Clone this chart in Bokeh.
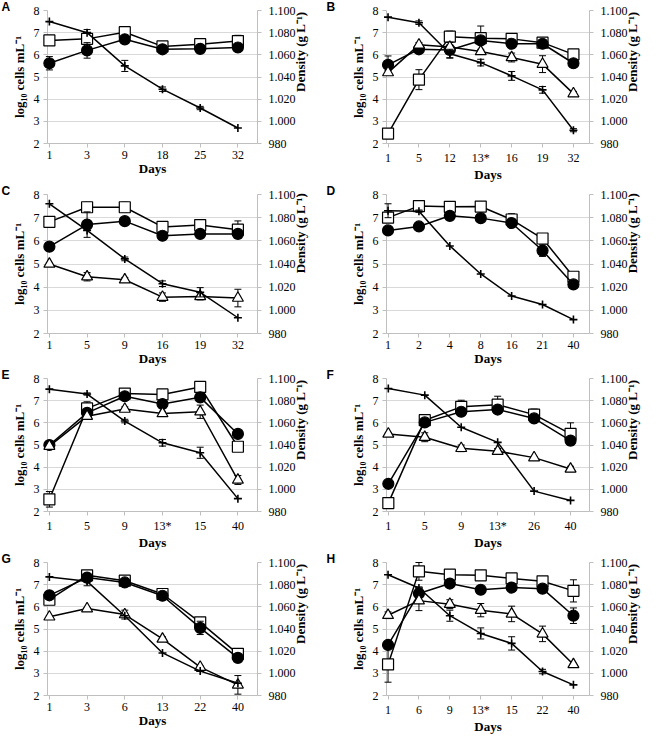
import math
import json
from bokeh.plotting import figure
from bokeh.models import Range1d, LinearAxis, FixedTicker, CustomJSTickFormatter, Title, ColumnDataSource
from bokeh.layouts import gridplot
from bokeh.embed import file_html
from bokeh.resources import INLINE

# ---------------- data ----------------
A_days = ["1", "3", "9", "18", "25", "32"]
A_sq = [6.65, 6.72, 7.02, 6.38, 6.48, 6.62]
A_sq_e = [0.15, 0.42, 0.08, 0.05, 0.05, 0.26]
A_ci = [5.62, 6.2, 6.7, 6.25, 6.27, 6.33]
A_ci_e = [0.3, 0.35, 0.08, 0.08, 0.05, 0.08]
A_tr = None
A_tr_e = None
A_den = [1.090, 1.080, 1.050, 1.029, 1.012, 0.994]
A_den_e = [0.0, 0.0, 0.005, 0.002, 0.0015, 0.0]

B_days = ["1", "5", "12", "13*", "16", "19", "32"]
B_sq = [2.45, 4.88, 6.82, 6.75, 6.72, 6.55, 6.02]
B_sq_e = [0.05, 0.45, 0.25, 0.55, 0.1, 0.12, 0.12]
B_ci = [5.55, 6.25, 6.22, 6.65, 6.5, 6.5, 5.62]
B_ci_e = [0.4, 0.1, 0.35, 0.1, 0.1, 0.15, 0.15]
B_tr = [5.2, 6.45, 6.35, 6.15, 5.88, 5.58, 4.25]
B_tr_e = [0.1, 0.1, 0.1, 0.1, 0.2, 0.38, 0.1]
B_den = [1.094, 1.089, 1.061, 1.053, 1.041, 1.0284, 0.992]
B_den_e = [0.0, 0.0016, 0.004, 0.003, 0.004, 0.003, 0.0014]

C_days = ["1", "5", "9", "16", "19", "32"]
C_sq = [6.82, 7.45, 7.45, 6.6, 6.68, 6.48]
C_sq_e = [0.05, 0.22, 0.22, 0.1, 0.05, 0.38]
C_ci = [5.75, 6.7, 6.85, 6.22, 6.3, 6.3]
C_ci_e = [0.05, 0.55, 0.05, 0.12, 0.05, 0.15]
C_tr = [5.0, 4.45, 4.32, 3.57, 3.6, 3.53]
C_tr_e = [0.05, 0.18, 0.1, 0.18, 0.15, 0.38]
C_den = [1.092, 1.069, 1.0444, 1.023, 1.0156, 0.9936]
C_den_e = [0.0, 0.0, 0.0016, 0.0024, 0.004, 0.0]

D_days = ["1", "2", "4", "8", "16", "21", "40"]
D_sq = [7.0, 7.5, 7.47, 7.48, 6.92, 6.1, 4.45]
D_sq_e = [0.05, 0.05, 0.05, 0.05, 0.25, 0.1, 0.05]
D_ci = [6.45, 6.62, 7.08, 6.98, 6.77, 5.58, 4.12]
D_ci_e = [0.05, 0.05, 0.05, 0.05, 0.15, 0.25, 0.1]
D_tr = None
D_tr_e = None
D_den = [1.086, 1.0856, 1.0556, 1.0314, 1.0124, 1.005, 0.992]
D_den_e = [0.006, 0.001, 0.0, 0.0, 0.0, 0.0, 0.0]

E_days = ["1", "5", "9", "13*", "15", "40"]
E_sq = [2.55, 6.65, 7.32, 7.28, 7.62, 4.92]
E_sq_e = [0.35, 0.3, 0.05, 0.05, 0.1, 0.05]
E_ci = [5.0, 6.45, 7.2, 6.85, 7.15, 5.5]
E_ci_e = [0.1, 0.1, 0.05, 0.05, 0.05, 0.05]
E_tr = [4.95, 6.3, 6.62, 6.42, 6.5, 3.42]
E_tr_e = [0.1, 0.1, 0.1, 0.1, 0.3, 0.2]
E_den = [1.0904, 1.086, 1.0616, 1.042, 1.033, 0.9916]
E_den_e = [0.0, 0.001, 0.0016, 0.003, 0.005, 0.0]

F_days = ["1", "5", "9", "13*", "26", "40"]
F_sq = [2.38, 6.12, 6.72, 6.82, 6.37, 5.5]
F_sq_e = [0.05, 0.1, 0.3, 0.38, 0.25, 0.5]
F_ci = [3.25, 6.02, 6.5, 6.6, 6.2, 5.2]
F_ci_e = [0.05, 0.05, 0.05, 0.05, 0.1, 0.05]
F_tr = [5.5, 5.35, 4.85, 4.72, 4.43, 3.92]
F_tr_e = [0.05, 0.2, 0.15, 0.12, 0.05, 0.12]
F_den = [1.091, 1.085, 1.056, 1.0424, 0.9984, 0.990]
F_den_e = [0.0, 0.0, 0.0, 0.0, 0.0, 0.0]

G_days = ["1", "3", "6", "13", "22", "40"]
G_sq = [6.32, 7.42, 7.18, 6.58, 5.3, 3.88]
G_sq_e = [0.05, 0.05, 0.05, 0.05, 0.05, 0.05]
G_ci = [6.52, 7.32, 7.1, 6.5, 5.05, 3.7]
G_ci_e = [0.05, 0.05, 0.05, 0.05, 0.3, 0.12]
G_tr = [5.55, 5.92, 5.65, 4.55, 3.28, 2.48]
G_tr_e = [0.05, 0.05, 0.2, 0.1, 0.05, 0.42]
G_den = [1.087, 1.083, 1.052, 1.0184, 1.002, 0.991]
G_den_e = [0.0, 0.004, 0.0, 0.0, 0.0, 0.0]

H_days = ["1", "6", "9", "13*", "15", "22", "40"]
H_sq = [3.4, 7.6, 7.45, 7.42, 7.28, 7.15, 6.72]
H_sq_e = [0.8, 0.4, 0.05, 0.05, 0.05, 0.05, 0.5]
H_ci = [4.28, 6.6, 7.05, 6.77, 6.87, 6.82, 5.6]
H_ci_e = [0.05, 0.3, 0.05, 0.05, 0.05, 0.15, 0.35]
H_tr = [5.62, 6.28, 6.12, 5.85, 5.68, 4.78, 3.4]
H_tr_e = [0.15, 0.45, 0.2, 0.3, 0.35, 0.35, 0.05]
H_den = [1.089, 1.077, 1.052, 1.036, 1.027, 1.0016, 0.9896]
H_den_e = [0.0, 0.0, 0.005, 0.005, 0.006, 0.002, 0.0]

LEFT_TICKS = [2, 3, 4, 5, 6, 7, 8]
RIGHT_TICKS = [0.98, 1.0, 1.02, 1.04, 1.06, 1.08, 1.1]
LEFT_LABEL = "log\u2081\u2080 cells mL\u207b\u00b9"
RIGHT_LABEL = "Density (g L\u207b\u00b9)"
X_LABEL = "Days"

# ---------------- style ----------------
SERIF = "Liberation Serif"
SANS = "Liberation Sans"
AXIS_GRAY = "#bfbfbf"
GRID_GRAY = "#d9d9d9"
ROW_H = 184


def add_series(p, xs, ys, errs, marker, fill, size, y_range_name="default", cap=7, lw=1.2):
    src = ColumnDataSource(dict(x=xs, y=ys))
    p.line("x", "y", source=src, line_color="black", line_width=1.5,
           y_range_name=y_range_name, level="overlay")
    if errs is not None:
        ex = [x for x, e in zip(xs, errs) if e > 0]
        ey = [y for y, e in zip(ys, errs) if e > 0]
        ee = [e for e in errs if e > 0]
        esrc = ColumnDataSource(dict(x=ex, lo=[y - e for y, e in zip(ey, ee)],
                                     hi=[y + e for y, e in zip(ey, ee)]))
        p.segment(x0="x", y0="lo", x1="x", y1="hi", source=esrc, line_color="black",
                  line_width=1, y_range_name=y_range_name, level="overlay")
        p.scatter("x", "lo", source=esrc, marker="dash", size=cap, line_color="black",
                  line_width=1, y_range_name=y_range_name, level="overlay")
        p.scatter("x", "hi", source=esrc, marker="dash", size=cap, line_color="black",
                  line_width=1, y_range_name=y_range_name, level="overlay")
    p.scatter("x", "y", source=src, marker=marker, size=size, fill_color=fill,
              line_color="black", line_width=lw, y_range_name=y_range_name, level="overlay")


def style_axis(ax, standoff, label, label_standoff):
    ax.major_label_text_font = SERIF
    ax.major_label_text_font_size = "12px"
    ax.major_label_text_color = "black"
    ax.major_label_standoff = standoff
    ax.axis_line_color = AXIS_GRAY
    ax.major_tick_line_color = AXIS_GRAY
    ax.major_tick_out = 4
    ax.major_tick_in = 0
    ax.minor_tick_line_color = None
    if label is not None:
        ax.axis_label = label
        ax.axis_label_text_font = SERIF
        ax.axis_label_text_font_style = "bold"
        ax.axis_label_text_font_size = "13px"
        ax.axis_label_text_color = "black"
        ax.axis_label_standoff = label_standoff


def title_axis(text, tick, standoff, orientation=None, y_range_name=None):
    """An axis without line or ticks whose single tick label is a title."""
    kw = {}
    if y_range_name is not None:
        kw["y_range_name"] = y_range_name
    ax = LinearAxis(ticker=FixedTicker(ticks=[tick]),
                    formatter=CustomJSTickFormatter(code="return %s;" % json.dumps(text)), **kw)
    ax.axis_line_color = None
    ax.major_tick_line_color = None
    ax.minor_tick_line_color = None
    ax.major_tick_out = 0
    ax.major_tick_in = 0
    ax.major_label_standoff = standoff
    ax.major_label_text_font = SERIF
    ax.major_label_text_font_style = "bold"
    ax.major_label_text_font_size = "13px"
    ax.major_label_text_color = "black"
    if orientation is not None:
        ax.major_label_orientation = orientation
    return ax


def make_panel(letter, days, sq, sq_e, ci, ci_e, tr, tr_e, den, den_e, left_col):
    n = len(days)
    if left_col:
        W, ml, fw = 318, 47, 217
        let_px = 1
    else:
        W, ml, fw = 332, 68, 208
        let_px = 8
    mr = W - ml - fw
    xs = list(range(n))
    x0, x1 = -0.05, n - 1 + 0.52
    p = figure(width=W, height=ROW_H, x_range=Range1d(x0, x1),
               y_range=Range1d(2, 8), output_backend="svg", toolbar_location=None,
               min_border_left=ml, min_border_right=mr, min_border_top=0,
               min_border_bottom=0)
    p.outline_line_color = None
    p.background_fill_color = "white"
    p.border_fill_color = "white"
    p.extra_y_ranges = {"dens": Range1d(0.98, 1.10)}

    p.xgrid.grid_line_color = None
    p.ygrid.grid_line_color = GRID_GRAY
    p.ygrid.grid_line_width = 1
    p.ygrid.ticker = FixedTicker(ticks=LEFT_TICKS)

    xa = p.xaxis[0]
    xa.ticker = FixedTicker(ticks=xs)
    xa.major_label_overrides = {i: d for i, d in enumerate(days)}
    style_axis(xa, 3, None, 0)

    ya = p.yaxis[0]
    ya.ticker = FixedTicker(ticks=LEFT_TICKS)
    style_axis(ya, 4, LEFT_LABEL, 4)

    ra = LinearAxis(y_range_name="dens", ticker=FixedTicker(ticks=RIGHT_TICKS))
    ra.formatter = CustomJSTickFormatter(code="return tick < 0.99 ? '980' : tick.toFixed(3);")
    style_axis(ra, 7, None, 0)
    p.add_layout(ra, "right")

    # axis titles drawn as single tick labels of line-less axes
    p.add_layout(title_axis(RIGHT_LABEL, 5.35, 2, orientation=math.pi / 2), "right")
    p.add_layout(title_axis(X_LABEL, (x0 + x1) / 2, -1), "below")

    add_series(p, xs, sq, sq_e, "square", "white", 11)
    add_series(p, xs, ci, ci_e, "circle", "black", 11)
    if tr is not None:
        add_series(p, xs, tr, tr_e, "triangle", "white", 11)
    add_series(p, xs, den, den_e, "cross", None, 8, y_range_name="dens", lw=1.6)

    t = Title(text=letter, align="left", offset=-(ml - let_px), standoff=-6,
              text_font=SANS, text_font_style="bold", text_font_size="12px",
              text_color="black")
    p.add_layout(t, "above")
    return p


panels = [
    make_panel("A", A_days, A_sq, A_sq_e, A_ci, A_ci_e, A_tr, A_tr_e, A_den, A_den_e, True),
    make_panel("B", B_days, B_sq, B_sq_e, B_ci, B_ci_e, B_tr, B_tr_e, B_den, B_den_e, False),
    make_panel("C", C_days, C_sq, C_sq_e, C_ci, C_ci_e, C_tr, C_tr_e, C_den, C_den_e, True),
    make_panel("D", D_days, D_sq, D_sq_e, D_ci, D_ci_e, D_tr, D_tr_e, D_den, D_den_e, False),
    make_panel("E", E_days, E_sq, E_sq_e, E_ci, E_ci_e, E_tr, E_tr_e, E_den, E_den_e, True),
    make_panel("F", F_days, F_sq, F_sq_e, F_ci, F_ci_e, F_tr, F_tr_e, F_den, F_den_e, False),
    make_panel("G", G_days, G_sq, G_sq_e, G_ci, G_ci_e, G_tr, G_tr_e, G_den, G_den_e, True),
    make_panel("H", H_days, H_sq, H_sq_e, H_ci, H_ci_e, H_tr, H_tr_e, H_den, H_den_e, False),
]

grid = gridplot(panels, ncols=2, toolbar_location=None)
open("out.html", "w").write(file_html(grid, INLINE))
